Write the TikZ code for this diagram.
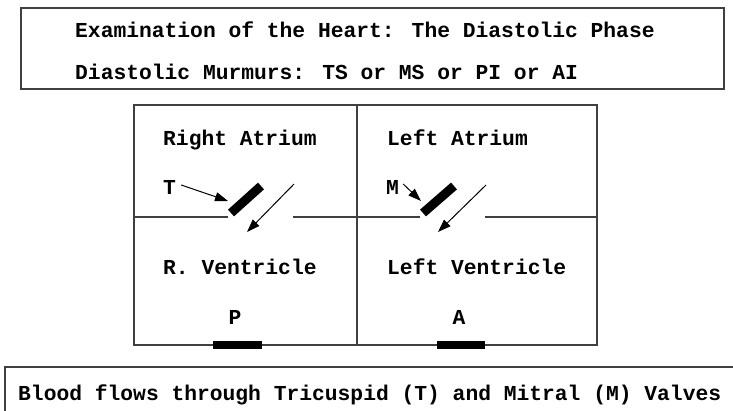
\documentclass[tikz,border=0pt]{standalone}
\usepackage{fontspec}
\setmainfont{Liberation Mono}
\usetikzlibrary{arrows.meta}

\begin{document}
\begin{tikzpicture}[x=1pt, y=-1pt,
        txt/.style={anchor=base west, inner sep=0pt, font=\fontsize{21.3}{24}\selectfont\bfseries},
        mid/.style={anchor=base, inner sep=0pt, font=\fontsize{21.3}{24}\selectfont\bfseries},
        wall/.style={draw=black!75, line width=1.2pt},
        valve/.style={line width=9pt, black},
        arr/.style={line width=1pt, -{Triangle[length=13pt, width=9pt]}}]
            \useasboundingbox (0,0) rectangle (733,410);
            \clip (0,0) rectangle (733,410);

            % title box
            \draw[wall] (21,8) rectangle (724,89);
            \node[txt] (title) at (75,37) {Examination of the Heart: The Diastolic Phase};
            \node[txt] (murmurs) at (75,79) {Diastolic Murmurs: TS or MS or PI or AI};

            % heart chambers
            \draw[wall] (134,105) rectangle (597,345);
            \draw[wall] (357,105) -- (357,345);
            \draw[wall] (134,217) -- (228,217);
            \draw[wall] (293,217) -- (420,217);
            \draw[wall] (485,217) -- (597,217);

            \node[txt] (ra) at (163,145) {Right Atrium};
            \node[txt] (la) at (387,145) {Left Atrium};
            \node[txt] (rv) at (163,274) {R. Ventricle};
            \node[txt] (lv) at (387,274) {Left Ventricle};
            \node[mid] (P) at (235,324) {P};
            \node[mid] (A) at (459,324) {A};

            % tricuspid valve
            \node[txt] (T) at (163,194) {T};
            \coordinate (tv1) at (231,213);
            \coordinate (tv2) at (261,186);
            \coordinate (ttip) at (228,201);
            \coordinate (tfrom) at (294,184);
            \coordinate (tto) at (247,232);
            \draw[valve] (tv1) -- (tv2);
            \draw[arr] (T.east) ++(5,-2) -- (ttip);
            \draw[arr] (tfrom) -- (tto);

            % mitral valve
            \node[txt] (M) at (386,194) {M};
            \coordinate (mv1) at (423,213);
            \coordinate (mv2) at (454,186);
            \coordinate (mtip) at (421,201);
            \coordinate (mfrom) at (486,185);
            \coordinate (mto) at (438,232);
            \draw[valve] (mv1) -- (mv2);
            \draw[arr] (M.east) ++(4,-3) -- (mtip);
            \draw[arr] (mfrom) -- (mto);

            % pulmonary and aortic valves
            \draw[line width=8pt] (213,345) -- (262,345);
            \draw[line width=8pt] (437,345) -- (485,345);

            % caption box
            \draw[wall] (5,420) -- (5,367) -- (740,367);
            \node[txt] (flow) at (18,400) {Blood flows through Tricuspid (T) and Mitral (M) Valves};
        \end{tikzpicture}
\end{document}
